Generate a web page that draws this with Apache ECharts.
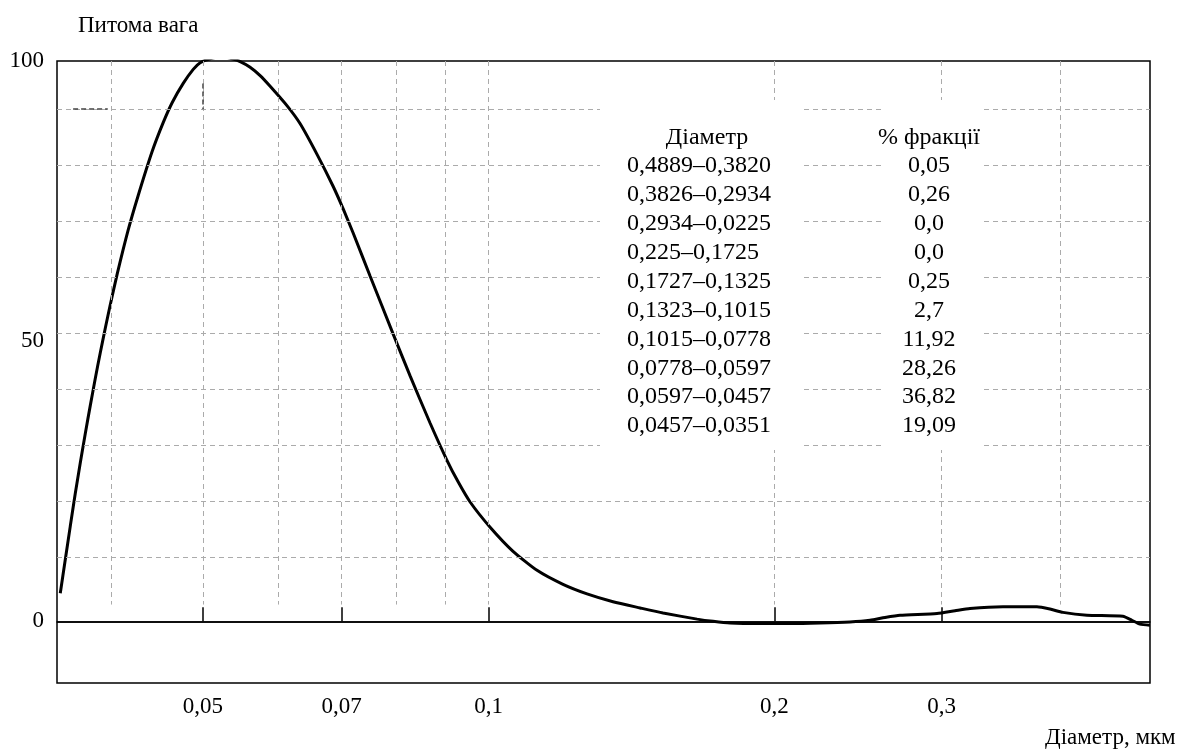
<!DOCTYPE html>
<html>
<head>
<meta charset="utf-8">
<script src="https://cdn.jsdelivr.net/npm/echarts@6/dist/echarts.min.js"></script>
<style>
  html, body { margin: 0; padding: 0; background: #fff; }
  #chart { width: 1178px; height: 749px; }
</style>
</head>
<body>
<div id="chart"></div>
<script>
// ---- data ----
const diameters = [0.03538, 0.03581, 0.03625, 0.03669, 0.03714, 0.03759, 0.03805, 0.03851, 0.03898, 0.03946, 0.03994, 0.04062, 0.04171, 0.04274, 0.04420, 0.04541, 0.04642, 0.04767, 0.04884, 0.04967, 0.05089, 0.05240, 0.05368, 0.05473, 0.05607, 0.05745, 0.05886, 0.06134, 0.06331, 0.06597, 0.06859, 0.07027, 0.07199, 0.07502, 0.07931, 0.08265, 0.08675, 0.09041, 0.09286, 0.09560, 0.10035, 0.10609, 0.11245, 0.11976, 0.12694, 0.13520, 0.14438, 0.15266, 0.16579, 0.17235, 0.17960, 0.19317, 0.20770, 0.22337, 0.24020, 0.25216, 0.26150, 0.27118, 0.29667, 0.30990, 0.32138, 0.34814, 0.37806, 0.39016, 0.40266, 0.42675, 0.46565, 0.47593, 0.48526, 0.49722];
const weights   = [5.0, 11.0, 17.0, 22.8, 28.3, 33.5, 38.5, 43.3, 47.9, 52.3, 56.5, 62.0, 69.8, 76.0, 83.8, 89.0, 92.6, 96.0, 98.5, 99.7, 100.4, 100.8, 100.4, 99.9, 98.9, 97.4, 95.5, 92.0, 88.8, 83.3, 77.6, 73.6, 69.3, 61.6, 51.3, 43.8, 35.4, 28.7, 24.9, 21.3, 16.8, 12.5, 9.1, 6.6, 4.9, 3.5, 2.4, 1.5, 0.4, 0.0, -0.3, -0.4, -0.4, -0.3, -0.1, 0.2, 0.7, 1.1, 1.4, 1.9, 2.3, 2.6, 2.6, 2.2, 1.6, 1.1, 0.9, 0.2, -0.5, -0.7];

const xTickValues = [0.05, 0.07, 0.1, 0.2, 0.3];
const yTickValues = [0, 50, 100];
const gridXValues = [0.04, 0.05, 0.06, 0.07, 0.08, 0.09, 0.1, 0.2, 0.3, 0.4];
const gridYValues = [11.4, 21.4, 31.4, 41.4, 51.4, 61.4, 71.4, 81.4, 91.4];

const tableHeaders = ['Діаметр', '% фракції'];
const tableRanges = ['0,4889–0,3820', '0,3826–0,2934', '0,2934–0,0225', '0,225–0,1725', '0,1727–0,1325', '0,1323–0,1015', '0,1015–0,0778', '0,0778–0,0597', '0,0597–0,0457', '0,0457–0,0351'];
const tableFractions = ['0,05', '0,26', '0,0', '0,0', '0,25', '2,7', '11,92', '28,26', '36,82', '19,09'];

const yTitle = 'Питома вага';
const xTitle = 'Діаметр, мкм';

// ---- chart ----
const FONT = '"Liberation Serif", "Times New Roman", serif';
const chart = echarts.init(document.getElementById('chart'), null, { renderer: 'canvas' });

const gridStyle = { color: '#ababab', width: 1, type: [5, 4] };
const darkStyle = { color: '#444', width: 1.5, type: [5, 3] };
const markData = [];
gridXValues.forEach(v => markData.push([{ coord: [v, 100], lineStyle: gridStyle }, { coord: [v, 3] }]));
gridYValues.forEach(v => markData.push({ yAxis: v, lineStyle: gridStyle }));
// darker scanned fragments of the grid near the top-left
markData.push([{ coord: [0.0365, 91.4], lineStyle: darkStyle }, { coord: [0.0397, 91.4] }]);
markData.push([{ coord: [0.05, 96], lineStyle: darkStyle }, { coord: [0.05, 91.4] }]);
markData.push({ yAxis: 0, lineStyle: { color: '#000', width: 1.5, type: 'solid' } });

const graphics = [];
graphics.push({ type: 'rect', z: 50, shape: { x: 600, y: 100, width: 200, height: 350 }, style: { fill: '#fff' } });
graphics.push({ type: 'rect', z: 50, shape: { x: 882, y: 100, width: 98, height: 350 }, style: { fill: '#fff' } });
const tFont = '24px ' + FONT;
graphics.push({ type: 'text', z: 60, x: 707, y: 138, style: { text: tableHeaders[0], font: tFont, fill: '#000', align: 'center', verticalAlign: 'middle' } });
graphics.push({ type: 'text', z: 60, x: 929, y: 138, style: { text: tableHeaders[1], font: tFont, fill: '#000', align: 'center', verticalAlign: 'middle' } });
tableRanges.forEach((t, i) => {
  const y = 166 + i * 28.9;
  graphics.push({ type: 'text', z: 60, x: 627, y: y, style: { text: t, font: tFont, fill: '#000', align: 'left', verticalAlign: 'middle' } });
  graphics.push({ type: 'text', z: 60, x: 929, y: y, style: { text: tableFractions[i], font: tFont, fill: '#000', align: 'center', verticalAlign: 'middle' } });
});
graphics.push({ type: 'text', z: 60, x: 78, y: 26, style: { text: yTitle, font: '23px ' + FONT, fill: '#000', align: 'left', verticalAlign: 'middle' } });
graphics.push({ type: 'text', z: 60, x: 1045, y: 738, style: { text: xTitle, font: '23px ' + FONT, fill: '#000', align: 'left', verticalAlign: 'middle' } });

const fmt = v => String(+(+v).toPrecision(6)).replace('.', ',');

chart.setOption({
  animation: false,
  backgroundColor: '#fff',
  grid: { left: 57, top: 61, right: 28, bottom: 66, show: true, borderColor: '#000', borderWidth: 1.5, backgroundColor: 'transparent' },
  xAxis: {
    type: 'log',
    logBase: 10,
    min: 0.0351,
    max: 0.4973,
    axisLine: { show: true, lineStyle: { color: '#000', width: 1.5 } },
    axisTick: { show: true, inside: true, length: 14, customValues: xTickValues, lineStyle: { color: '#000', width: 1.5 } },
    axisLabel: { show: true, customValues: xTickValues, formatter: fmt, color: '#000', fontSize: 23, fontFamily: FONT, margin: 12 },
    splitLine: { show: false },
    minorTick: { show: false },
    minorSplitLine: { show: false }
  },
  yAxis: {
    type: 'value',
    min: -11,
    max: 100,
    axisLine: { show: false },
    axisTick: { show: false },
    axisLabel: { show: true, customValues: yTickValues, formatter: fmt, color: '#000', fontSize: 23, fontFamily: FONT, margin: 13 },
    splitLine: { show: false }
  },
  series: [{
    type: 'line',
    data: diameters.map((d, i) => [d, weights[i]]),
    showSymbol: false,
    smooth: 0.2,
    clip: true,
    lineStyle: { color: '#000', width: 3 },
    markLine: { silent: true, symbol: ['none', 'none'], label: { show: false }, animation: false, data: markData }
  }],
  graphic: graphics
});
</script>
</body>
</html>
